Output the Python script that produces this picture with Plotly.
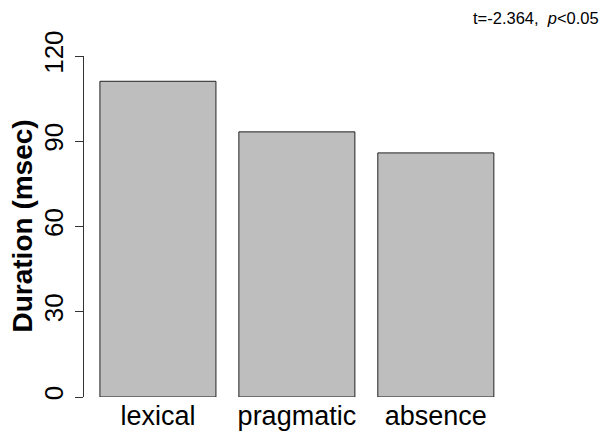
import plotly.graph_objects as go

categories = ["lexical", "pragmatic", "absence"]
durations = [111.1, 93.3, 85.9]
y_ticks = [0, 30, 60, 90, 120]
y_title = "Duration (msec)"
stat_note = "t=-2.364,  <i>p</i><0.05"

W, H = 607, 433
ml, mr, mt, mb = 84, 60, 56, 36
pw = W - ml - mr
ph = H - mt - mb

fig = go.Figure(go.Bar(
    x=categories, y=durations,
    marker=dict(color="#BEBEBE", line=dict(color="#222222", width=1)),
))

fig.update_layout(
    width=W, height=H,
    margin=dict(l=ml, r=mr, t=mt, b=mb, autoexpand=False),
    paper_bgcolor="white", plot_bgcolor="white",
    bargap=0.165,
    showlegend=False,
    font=dict(family="Liberation Sans, Arial, sans-serif", color="black"),
)

fig.update_xaxes(
    range=[-0.532, 2.8], showline=False, showgrid=False, zeroline=False,
    ticks="", tickfont=dict(size=27, color="black"),
)

fig.update_yaxes(
    range=[0, 120], tickvals=y_ticks, ticktext=[str(v) for v in y_ticks],
    showline=True, linecolor="#333333", linewidth=1,
    ticks="outside", ticklen=8, tickcolor="#333333", tickwidth=1,
    tickangle=-90, tickfont=dict(size=26, color="black"),
    ticklabelstandoff=2,
    showgrid=False, zeroline=False,
)

fig.add_annotation(
    text="<b>" + y_title + "</b>", textangle=-90,
    xref="paper", yref="paper",
    x=(22 - ml) / pw, y=0.5, xanchor="center", yanchor="middle",
    showarrow=False, font=dict(size=28, color="black"),
)

fig.add_annotation(
    text=stat_note,
    xref="paper", yref="paper",
    x=(601 - ml) / pw, y=1 + (mt - 18) / ph,
    xanchor="right", yanchor="middle",
    showarrow=False, font=dict(size=16.5, color="black"),
)

fig.write_html(
    "out.html",
    config={"displayModeBar": False},
    post_script="document.body.style.margin='0';document.body.style.overflow='hidden';",
)
